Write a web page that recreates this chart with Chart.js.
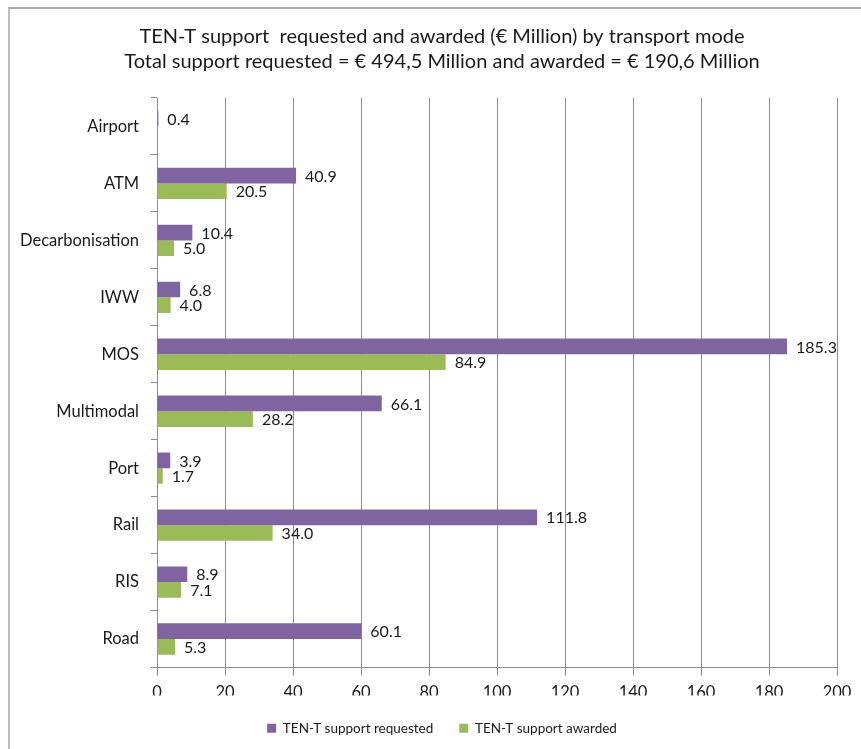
<!DOCTYPE html>
<html>
<head>
<meta charset="utf-8">
<script src="https://cdn.jsdelivr.net/npm/chart.js@4.4.1/dist/chart.umd.min.js"></script>
<style>
  html, body { margin: 0; padding: 0; background: #fff; }
  #wrap { position: relative; width: 861px; height: 749px; }
  #frame { position: absolute; left: 8px; top: 7px; right: 0; bottom: 0;
           border-top: 2px solid #a6a6a6; border-left: 2px solid #bdbdbd; }
  canvas { position: absolute; left: 0; top: 0; }
</style>
</head>
<body>
<div id="wrap">
  <div id="frame"></div>
  <canvas id="c" width="861" height="749"></canvas>
</div>
<script>
const categories = ["Airport", "ATM", "Decarbonisation", "IWW", "MOS", "Multimodal", "Port", "Rail", "RIS", "Road"];
const requested = [0.4, 40.9, 10.4, 6.8, 185.3, 66.1, 3.9, 111.8, 8.9, 60.1];
const awarded = [null, 20.5, 5.0, 4.0, 84.9, 28.2, 1.7, 34.0, 7.1, 5.3];
const xTicks = [0, 20, 40, 60, 80, 100, 120, 140, 160, 180, 200];
const titleLines = [
  "TEN-T support  requested and awarded (\u20ac Million) by transport mode",
  "Total support requested = \u20ac 494,5 Million and awarded = \u20ac 190,6 Million"
];

const FONT = "Lato, 'Noto Sans', sans-serif";

const valueLabels = {
  id: 'valueLabels',
  afterDatasetsDraw(chart) {
    const ctx = chart.ctx;
    ctx.save();
    ctx.font = "16px " + FONT;
    ctx.fillStyle = "#1a1a1a";
    ctx.textAlign = "left";
    ctx.textBaseline = "middle";
    chart.data.datasets.forEach((ds, i) => {
      const meta = chart.getDatasetMeta(i);
      meta.data.forEach((el, j) => {
        const v = ds.data[j];
        if (v === null || v === undefined) return;
        ctx.fillText(v.toFixed(1), el.x + 9, el.y + 1);
      });
    });
    ctx.restore();
  }
};

// Centre title and legend over the same span as in the original (shifted right of the category labels)
const shiftBlocks = {
  id: 'shiftBlocks',
  afterLayout(chart) {
    if (chart.titleBlock) chart.titleBlock.left = 47;
    if (chart.legend) chart.legend.left = 47;
  }
};

new Chart(document.getElementById('c'), {
  type: 'bar',
  data: {
    labels: categories,
    datasets: [
      { label: "TEN-T support requested", data: requested, backgroundColor: "#8064A2", borderWidth: 0 },
      { label: "TEN-T support awarded", data: awarded, backgroundColor: "#9BBB59", borderWidth: 0 }
    ]
  },
  options: {
    indexAxis: 'y',
    responsive: false,
    animation: false,
    devicePixelRatio: 1,
    categoryPercentage: 0.55,
    barPercentage: 1.0,
    layout: { padding: { left: 0, right: 24, top: 24, bottom: 4 } },
    plugins: {
      title: {
        display: true,
        text: titleLines,
        color: "#1a1a1a",
        font: { family: FONT, size: 20, weight: 'normal', lineHeight: 1.25 },
        padding: { top: 0, bottom: 24 }
      },
      legend: {
        display: true,
        position: 'bottom',
        labels: {
          color: "#1a1a1a",
          font: { family: FONT, size: 13.5 },
          boxWidth: 9, boxHeight: 9,
          padding: 26
        }
      },
      tooltip: { enabled: false }
    },
    scales: {
      x: {
        min: 0, max: 200,
        afterBuildTicks(scale) { scale.ticks = xTicks.map(v => ({ value: v })); },
        afterFit(scale) { scale.height = 28; },
        ticks: { color: "#1a1a1a", font: { family: FONT, size: 16.5 }, padding: 7 },
        grid: { color: "#8c8c8c", lineWidth: 1, tickLength: 8, drawTicks: true },
        border: { color: "#8c8c8c" }
      },
      y: {
        afterFit(scale) { scale.width = 157; },
        ticks: { color: "#1a1a1a", font: { family: FONT, size: 16.5 }, padding: 12 },
        grid: { display: true, drawOnChartArea: false, color: "#8c8c8c", tickLength: 6, offset: true },
        border: { color: "#8c8c8c" }
      }
    }
  },
  plugins: [valueLabels, shiftBlocks]
});
</script>
</body>
</html>
